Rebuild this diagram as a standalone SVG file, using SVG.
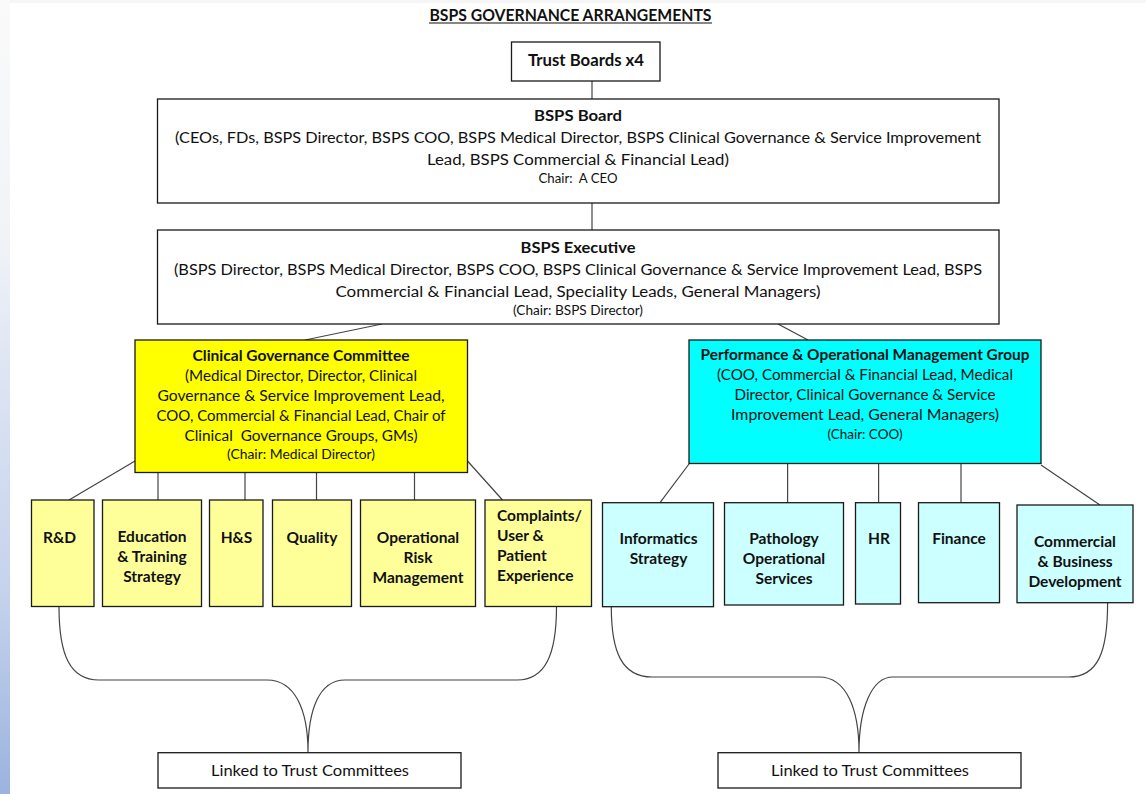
<svg xmlns="http://www.w3.org/2000/svg" width="1146" height="794" viewBox="0 0 1146 794">
<defs>
<linearGradient id="strip" x1="0" y1="0" x2="0" y2="1">
<stop offset="0" stop-color="#fafafa"/>
<stop offset="0.3" stop-color="#f1f3f7"/>
<stop offset="0.45" stop-color="#dfe6f4"/>
<stop offset="0.75" stop-color="#c4d2ec"/>
<stop offset="1" stop-color="#9cb3df"/>
</linearGradient>
<style>
text{font-family:Lato,"Liberation Sans",Arial,sans-serif;fill:#111;white-space:pre;}
.b{font-weight:bold;font-size:15.5px;}
.t{font-weight:bold;font-size:17px;}
.r{font-size:15.5px;}
.s{font-size:12.5px;}
.m{text-anchor:middle;}
.box{stroke:#1a1a1a;stroke-width:1.3;}
.w{fill:#fff;}
.y{fill:#ffff00;}
.ly{fill:#ffff99;}
.c{fill:#00ffff;}
.lc{fill:#ccffff;}
.con line,.con path{stroke:#444;stroke-width:1.2;fill:none;}
</style>
</defs>
<rect x="0" y="0" width="1146" height="794" fill="#ffffff"/>
<rect x="0" y="0" width="1146" height="3" fill="#f6f6f6"/>
<rect x="0" y="0" width="10" height="794" fill="url(#strip)"/>

<g id="title">
<text class="t m" x="570.5" y="20.5" textLength="282" lengthAdjust="spacingAndGlyphs">BSPS GOVERNANCE ARRANGEMENTS</text>
<line x1="429" y1="23" x2="712" y2="23" stroke="#111" stroke-width="1.2"/>
</g>

<g class="con" id="connectors">
<line x1="592" y1="81" x2="592" y2="99"/>
<line x1="592" y1="203" x2="592" y2="230"/>
<line x1="382" y1="324" x2="305" y2="340"/>
<line x1="778" y1="324" x2="808" y2="340"/>
<line x1="135" y1="461" x2="69" y2="500"/>
<line x1="158" y1="473" x2="158" y2="500"/>
<line x1="245" y1="473" x2="245" y2="500"/>
<line x1="316.5" y1="473" x2="316.5" y2="500"/>
<line x1="414.5" y1="473" x2="414.5" y2="500"/>
<line x1="467.5" y1="461" x2="502.5" y2="500"/>
<line x1="689" y1="464" x2="660" y2="502.7"/>
<line x1="787.6" y1="464" x2="787.6" y2="502.7"/>
<line x1="878.6" y1="464" x2="878.6" y2="502.7"/>
<line x1="961" y1="463.5" x2="961" y2="502.7"/>
<line x1="1041" y1="465" x2="1100" y2="505"/>
<path d="M59,607 C59,655 70,680 99,680 L267,680 C295,680 308,710 308,752 C308,710 319,680 345,680 L517,680 C545,680 556.5,655 556.5,607"/>
<path d="M611.3,607 C611.3,652 622,677 652,677 L819,677 C847,677 859,710 859,752 C859,710 871,677 893,677 L1068.6,677 C1098,677 1107.6,652 1107.6,603"/>
</g>

<g id="trust-boards">
<rect class="box w" x="511.5" y="42" width="148.5" height="39"/>
<text class="t m" x="586" y="66" textLength="116" lengthAdjust="spacingAndGlyphs">Trust Boards x4</text>
</g>

<g id="bsps-board">
<rect class="box w" x="157.5" y="99" width="841.5" height="104"/>
<text class="b m" x="578" y="121" textLength="88" lengthAdjust="spacingAndGlyphs">BSPS Board</text>
<text class="r m" x="578" y="143" textLength="806" lengthAdjust="spacingAndGlyphs">(CEOs, FDs, BSPS Director, BSPS COO, BSPS Medical Director, BSPS Clinical Governance &amp; Service Improvement</text>
<text class="r m" x="578" y="165" textLength="302" lengthAdjust="spacingAndGlyphs">Lead, BSPS Commercial &amp; Financial Lead)</text>
<text class="s m" x="578" y="183" textLength="79" lengthAdjust="spacingAndGlyphs" xml:space="preserve">Chair:  A CEO</text>
</g>

<g id="bsps-executive">
<rect class="box w" x="157.5" y="230" width="841.5" height="94"/>
<text class="b m" x="578" y="253" textLength="115" lengthAdjust="spacingAndGlyphs">BSPS Executive</text>
<text class="r m" x="578" y="275" textLength="808" lengthAdjust="spacingAndGlyphs">(BSPS Director, BSPS Medical Director, BSPS COO, BSPS Clinical Governance &amp; Service Improvement Lead, BSPS</text>
<text class="r m" x="578" y="297" textLength="485" lengthAdjust="spacingAndGlyphs">Commercial &amp; Financial Lead, Speciality Leads, General Managers)</text>
<text class="s m" x="578" y="314.5" textLength="130" lengthAdjust="spacingAndGlyphs">(Chair: BSPS Director)</text>
</g>

<g id="clinical-governance-committee">
<rect class="box y" x="135" y="340" width="332.5" height="132.5"/>
<text class="b m" x="301" y="361" textLength="217" lengthAdjust="spacingAndGlyphs">Clinical Governance Committee</text>
<text class="r m" x="301" y="381" textLength="232" lengthAdjust="spacingAndGlyphs">(Medical Director, Director, Clinical</text>
<text class="r m" x="301" y="401" textLength="287" lengthAdjust="spacingAndGlyphs">Governance &amp; Service Improvement Lead,</text>
<text class="r m" x="301" y="421" textLength="289" lengthAdjust="spacingAndGlyphs">COO, Commercial &amp; Financial Lead, Chair of</text>
<text class="r m" x="301" y="441" textLength="233" lengthAdjust="spacingAndGlyphs" xml:space="preserve">Clinical  Governance Groups, GMs)</text>
<text class="s m" x="301" y="458.5" textLength="148" lengthAdjust="spacingAndGlyphs">(Chair: Medical Director)</text>
</g>

<g id="rnd">
<rect class="box ly" x="31.5" y="500" width="62.5" height="106.5"/>
<text class="b m" x="59.5" y="543">R&amp;D</text>
</g>
<g id="education-training">
<rect class="box ly" x="102.5" y="500" width="99" height="106.5"/>
<text class="b m" x="152" y="542">Education</text>
<text class="b m" x="152" y="562">&amp; Training</text>
<text class="b m" x="152" y="582">Strategy</text>
</g>
<g id="hs">
<rect class="box ly" x="209.5" y="500" width="53.5" height="106.5"/>
<text class="b m" x="236.5" y="543">H&amp;S</text>
</g>
<g id="quality">
<rect class="box ly" x="272.5" y="500" width="79" height="106.5"/>
<text class="b m" x="312" y="543">Quality</text>
</g>
<g id="operational-risk">
<rect class="box ly" x="360.5" y="500" width="115" height="106.5"/>
<text class="b m" x="418" y="543">Operational</text>
<text class="b m" x="418" y="563">Risk</text>
<text class="b m" x="418" y="583">Management</text>
</g>
<g id="complaints">
<rect class="box ly" x="485" y="500" width="106.5" height="106.5"/>
<text class="b" x="497" y="521">Complaints/</text>
<text class="b" x="497" y="541">User &amp;</text>
<text class="b" x="497" y="561">Patient</text>
<text class="b" x="497" y="581">Experience</text>
</g>

<g id="performance-operational-group">
<rect class="box c" x="689" y="340" width="352" height="123.5"/>
<text class="b m" x="865" y="360" textLength="329" lengthAdjust="spacingAndGlyphs">Performance &amp; Operational Management Group</text>
<text class="r m" x="865" y="380" textLength="296" lengthAdjust="spacingAndGlyphs">(COO, Commercial &amp; Financial Lead, Medical</text>
<text class="r m" x="865" y="400" textLength="261" lengthAdjust="spacingAndGlyphs">Director, Clinical Governance &amp; Service</text>
<text class="r m" x="865" y="420" textLength="268" lengthAdjust="spacingAndGlyphs">Improvement Lead, General Managers)</text>
<text class="s m" x="865" y="438.5" textLength="75" lengthAdjust="spacingAndGlyphs">(Chair: COO)</text>
</g>

<g id="informatics">
<rect class="box lc" x="602.5" y="502.7" width="111" height="104"/>
<text class="b m" x="658.5" y="544">Informatics</text>
<text class="b m" x="658.5" y="564">Strategy</text>
</g>
<g id="pathology">
<rect class="box lc" x="724.5" y="502.7" width="119" height="102.3"/>
<text class="b m" x="784" y="544">Pathology</text>
<text class="b m" x="784" y="564">Operational</text>
<text class="b m" x="784" y="584">Services</text>
</g>
<g id="hr">
<rect class="box lc" x="855.5" y="502.7" width="45" height="101.3"/>
<text class="b m" x="879" y="544">HR</text>
</g>
<g id="finance">
<rect class="box lc" x="918.5" y="502.7" width="81" height="100"/>
<text class="b m" x="959" y="544">Finance</text>
</g>
<g id="commercial-business">
<rect class="box lc" x="1017" y="505" width="116" height="97.7"/>
<text class="b m" x="1075" y="547">Commercial</text>
<text class="b m" x="1075" y="567">&amp; Business</text>
<text class="b m" x="1075" y="587">Development</text>
</g>

<g id="linked-left">
<rect class="box w" x="158" y="752.7" width="303" height="35.3"/>
<text class="r m" x="310" y="775.5" textLength="198" lengthAdjust="spacingAndGlyphs">Linked to Trust Committees</text>
</g>
<g id="linked-right">
<rect class="box w" x="718" y="752.7" width="303" height="35.3"/>
<text class="r m" x="870" y="775.5" textLength="198" lengthAdjust="spacingAndGlyphs">Linked to Trust Committees</text>
</g>
</svg>
